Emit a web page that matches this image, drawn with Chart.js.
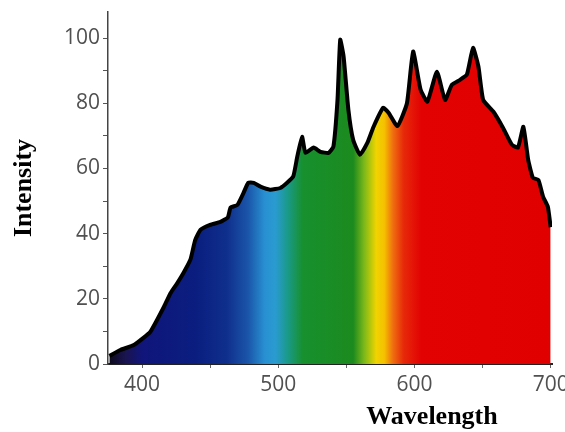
<!DOCTYPE html>
<html><head><meta charset="utf-8">
<script src="https://cdn.jsdelivr.net/npm/chart.js@4.4.1/dist/chart.umd.min.js"></script>
<style>html,body{margin:0;padding:0;background:#fff}#wrap{width:565px;height:432px}</style>
</head><body><div id="wrap"><canvas id="c" width="565" height="432"></canvas></div>
<script>
// ---- data ----
const wavelengths = [376, 384, 394, 401, 406, 411, 416, 421, 426, 430.5, 435.5, 439, 443, 450, 457.5, 463, 465, 470, 474.5, 478, 482, 487, 494, 501.5, 506.5, 511, 514, 517.5, 520, 526, 531, 537, 540.5, 543.5, 545.5, 548, 551.5, 555, 560, 565.5, 570, 577, 581, 587.5, 594.5, 599, 604.5, 609.5, 616.5, 622.5, 627.5, 633.5, 638.5, 643, 647, 650.5, 658, 665, 671.5, 676, 680, 683.5, 687, 691, 694.5, 698, 700];
const intensity = [2.5, 4.3, 5.8, 8, 9.8, 13.5, 17.5, 21.8, 24.9, 28, 32, 38, 41.2, 42.7, 43.6, 45, 48, 48.8, 52.5, 55.6, 55.6, 54.4, 53.5, 54, 55.6, 57.5, 63.7, 69.7, 64.8, 66.4, 65.1, 64.8, 66.7, 81, 99.5, 94.3, 78, 68.8, 64.2, 67.9, 72.8, 78.6, 77.1, 73, 80, 95.9, 84.2, 80.5, 89.7, 81, 85.7, 87.2, 88.8, 97, 91.2, 81, 77.4, 72.5, 67.3, 66.4, 72.8, 62.7, 57.1, 56.5, 51.3, 48.2, 42];
const xTicks = [400, 450, 500, 550, 600, 650, 700];
const xLabelled = [400, 500, 600, 700];
const yTicks = [0, 10, 20, 30, 40, 50, 60, 70, 80, 90, 100];
const yLabelled = [0, 20, 40, 60, 80, 100];
const xTitleText = 'Wavelength';
const yTitleText = 'Intensity';

// ---- styling ----
const spectrumStops = [
  [376, '#0d0a1e'], [388, '#1a1450'], [400, '#10157a'], [440, '#0a1e80'],
  [462, '#0f2f8c'], [478, '#1a56aa'], [490, '#2890d2'], [498, '#2a9bd0'],
  [507, '#1a9a88'], [518, '#17902e'], [555, '#1c8a1e'], [563, '#7ab81a'],
  [572, '#f0d400'], [578, '#f5c000'], [584, '#f07010'], [592, '#e62a0a'],
  [605, '#e20202'], [701, '#e00000']
];

function spectrumFill(context) {
  const chart = context.chart;
  if (!chart.chartArea) return '#e00000';
  const xs = chart.scales.x;
  const x0 = xs.getPixelForValue(xs.min), x1 = xs.getPixelForValue(xs.max);
  const g = chart.ctx.createLinearGradient(x0, 0, x1, 0);
  spectrumStops.forEach(([wl, c]) => {
    const f = (xs.getPixelForValue(wl) - x0) / (x1 - x0);
    g.addColorStop(Math.min(1, Math.max(0, f)), c);
  });
  return g;
}

const xTitlePlugin = {
  id: 'xTitle',
  afterDraw(chart) {
    const ctx = chart.ctx, a = chart.chartArea;
    ctx.save();
    ctx.font = 'bold 26px "Liberation Serif"';
    ctx.fillStyle = '#000';
    ctx.textAlign = 'center';
    ctx.textBaseline = 'middle';
    ctx.fillText(xTitleText, a.right - 120, a.bottom + 53);
    ctx.restore();
  }
};

new Chart(document.getElementById('c'), {
  type: 'line',
  data: {
    datasets: [{
      data: wavelengths.map((w, i) => ({ x: w, y: intensity[i] })),
      borderColor: '#000',
      borderWidth: 4,
      borderJoinStyle: 'round',
      fill: 'origin',
      backgroundColor: spectrumFill,
      pointRadius: 0,
      tension: 0.15
    }]
  },
  options: {
    responsive: false,
    animation: false,
    layout: { padding: { top: 12, right: 13, left: 0, bottom: 0 } },
    plugins: { legend: { display: false }, tooltip: { enabled: false } },
    scales: {
      x: {
        type: 'linear', min: 375, max: 701,
        afterBuildTicks(s) { s.ticks = xTicks.map(v => ({ value: v })); },
        afterFit(s) { s.height = 68; s.paddingLeft = 0; s.paddingRight = 0; },
        border: { display: true, color: '#222', width: 2 },
        grid: { drawOnChartArea: false, drawTicks: true, tickLength: 4, color: '#666' },
        ticks: {
          autoSkip: false, maxRotation: 0, padding: 4, color: '#505050',
          font: { family: 'Open Sans', size: 21 },
          callback: v => xLabelled.includes(v) ? String(v) : ''
        }
      },
      y: {
        type: 'linear', min: 0, max: 108,
        afterBuildTicks(s) { s.ticks = yTicks.map(v => ({ value: v })); },
        afterFit(s) { s.width = 108; s.paddingTop = 0; s.paddingBottom = 0; },
        border: { display: true, color: '#444', width: 1.5 },
        grid: { drawOnChartArea: false, drawTicks: true, tickLength: 5, color: '#555' },
        ticks: {
          autoSkip: false, padding: 3, color: '#505050',
          font: { family: 'Open Sans', size: 21 },
          callback: v => yLabelled.includes(v) ? String(v) : ''
        },
        title: {
          display: true, text: yTitleText, color: '#000',
          font: { family: 'Liberation Serif', size: 26, weight: 'bold' },
          padding: { top: 9, bottom: 0 }
        }
      }
    }
  },
  plugins: [xTitlePlugin]
});
</script>
</body></html>
